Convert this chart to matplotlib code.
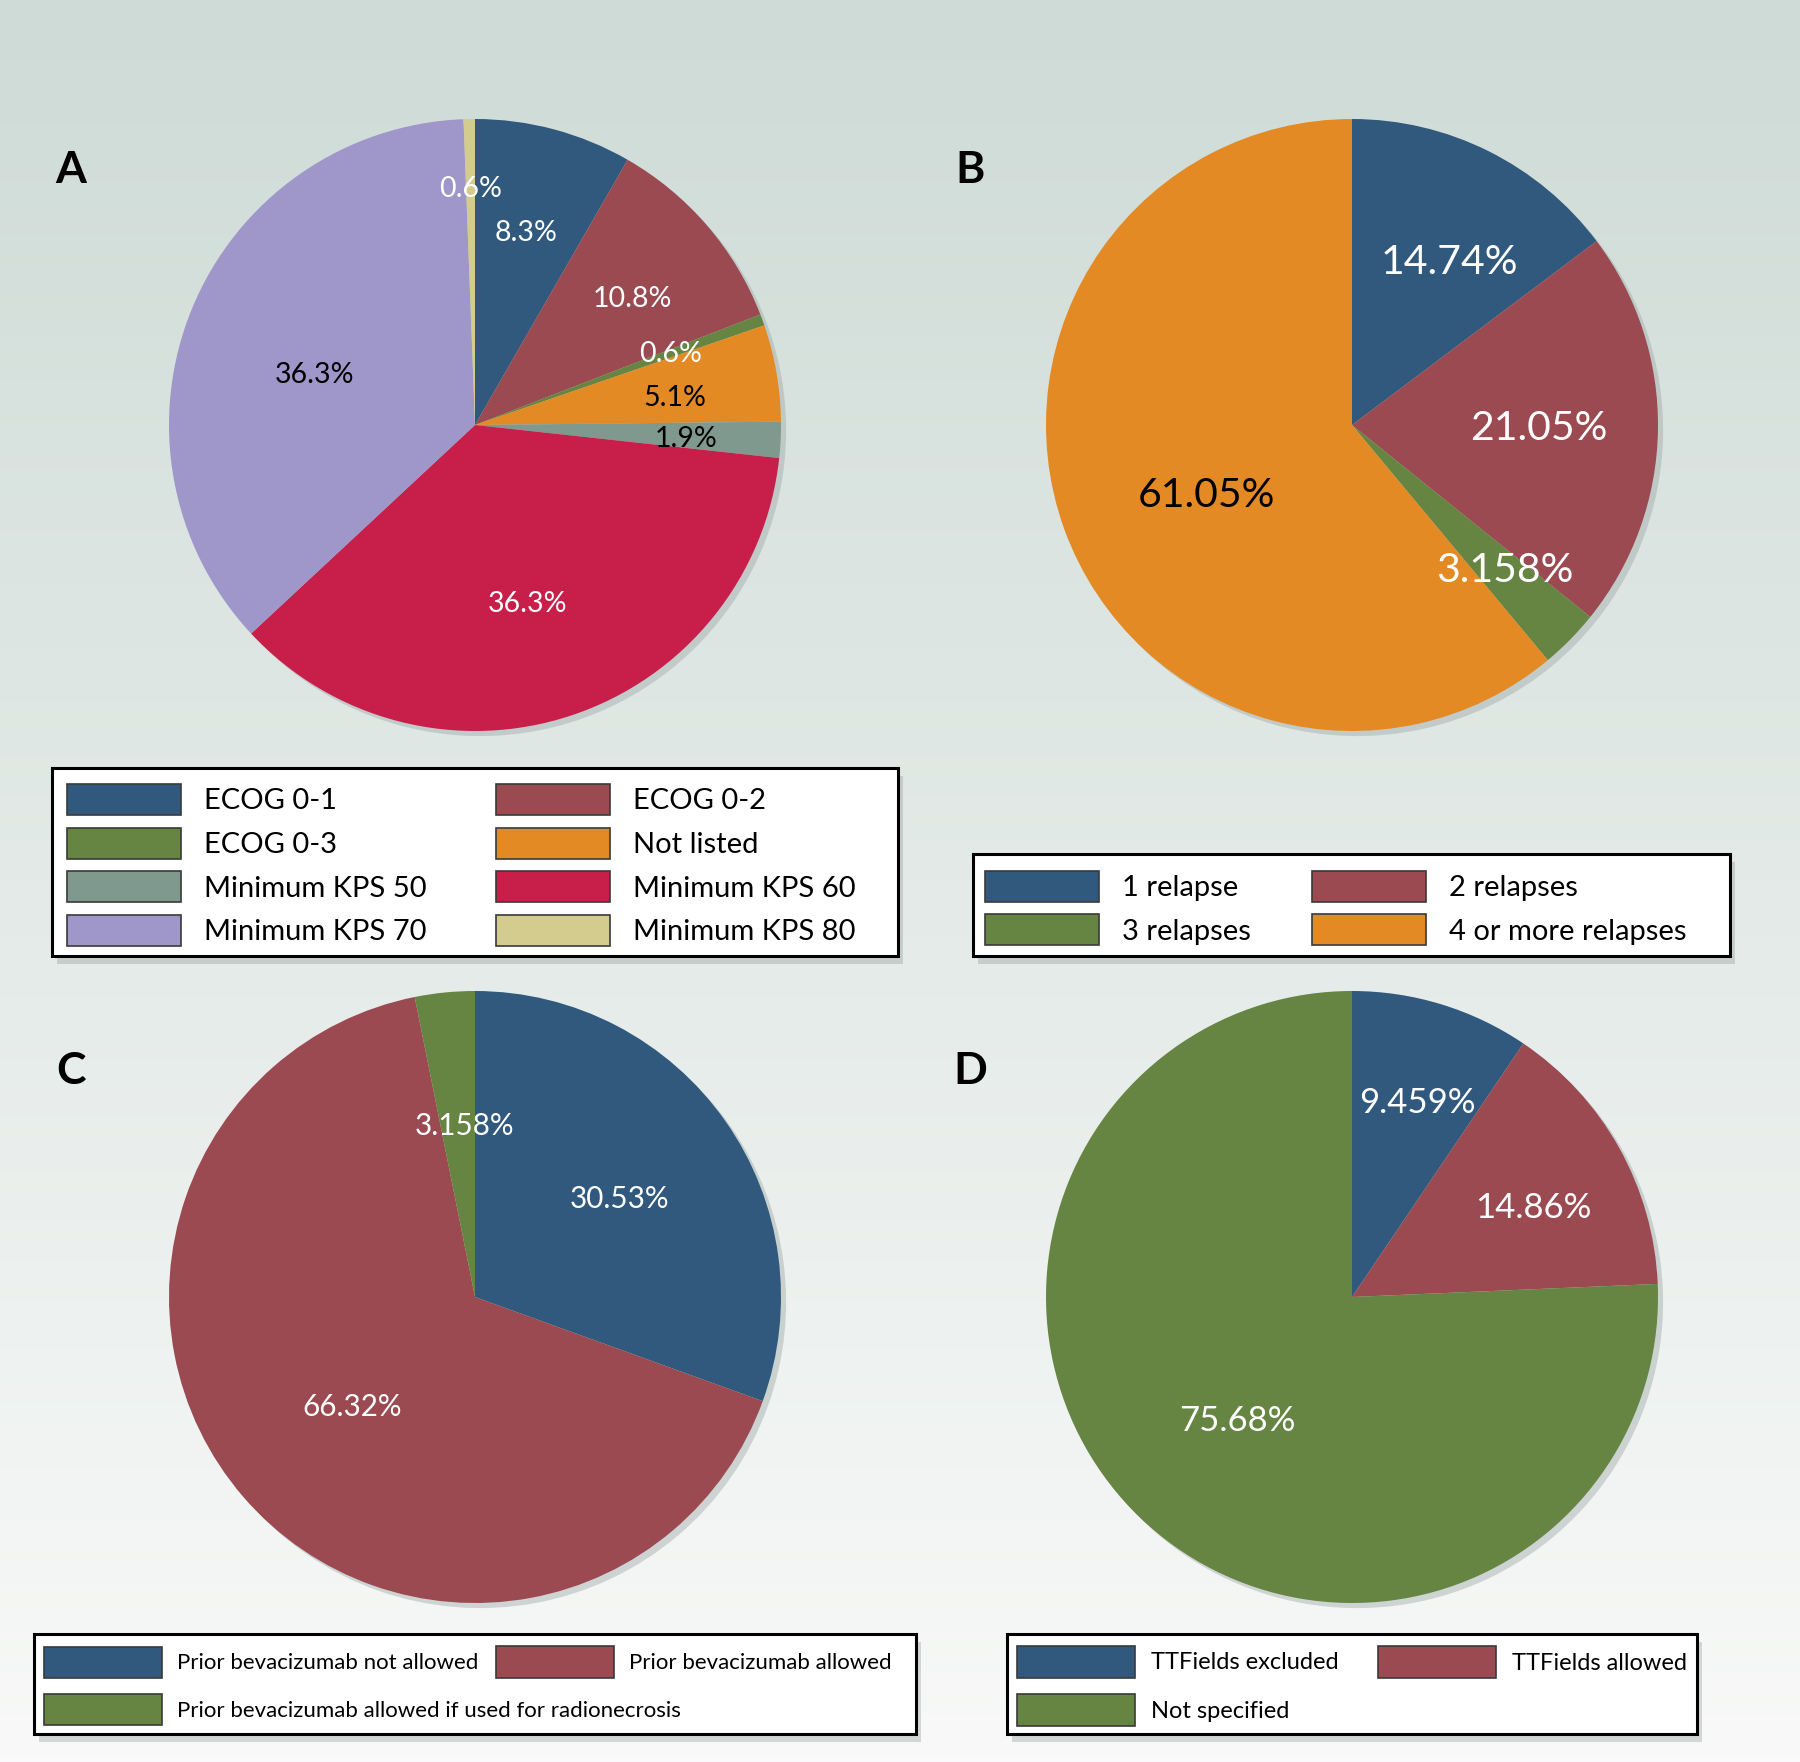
import numpy as np
import matplotlib
matplotlib.use("Agg")
import matplotlib.pyplot as plt
import matplotlib.patches as mpatches

plt.rcParams["font.family"] = ["Lato", "DejaVu Sans"]

# panel A - performance status requirement
a_labels = ["ECOG 0-1", "ECOG 0-2", "ECOG 0-3", "Not listed",
            "Minimum KPS 50", "Minimum KPS 60", "Minimum KPS 70", "Minimum KPS 80"]
a_values = [8.3, 10.8, 0.6, 5.1, 1.9, 36.3, 36.3, 0.6]

# panel B - number of prior relapses
b_labels = ["1 relapse", "2 relapses", "3 relapses", "4 or more relapses"]
b_values = [14.74, 21.05, 3.158, 61.05]

# panel C - prior bevacizumab
c_labels = ["Prior bevacizumab not allowed", "Prior bevacizumab allowed",
            "Prior bevacizumab allowed if used for radionecrosis"]
c_values = [30.53, 66.32, 3.158]

# panel D - TTFields
d_labels = ["TTFields excluded", "TTFields allowed", "Not specified"]
d_values = [9.459, 14.86, 75.68]

BLUE, RED, GREEN, ORANGE = "#30597d", "#9b4a51", "#668442", "#e48a24"
a_colors = [BLUE, RED, GREEN, ORANGE, "#7f998f", "#c81e4a", "#9f96ca", "#d3cc8e"]
a_text = ["white", "white", "white", "black", "black", "white", "black", "white"]
b_colors = [BLUE, RED, GREEN, ORANGE]
b_text = ["white", "white", "white", "black"]
c_colors = [BLUE, RED, GREEN]
d_colors = [BLUE, RED, GREEN]

# where each percentage sits: fraction of radius, and nudge off the mid-angle (deg)
a_dist = [0.65, 0.66, 0.68, 0.66, 0.69, 0.61, 0.55, 0.77]
a_dang = [0, -2, 0, -2, -1, -2, 5, 0]
b_dist = [0.62, 0.61, 0.69, 0.53]
b_dang = [-4.5, 0, 1, 6]
c_dist = [0.57, 0.54, 0.56]
c_dang = [-1, 1, -2]
d_dist = [0.67, 0.66, 0.55]
d_dang = [-1.5, -3, 1]

W, H = 1800, 1762
fig = plt.figure(figsize=(W / 100, H / 100), dpi=100)

# background gradient
bg = fig.add_axes([0, 0, 1, 1], zorder=-10)
top = np.array([206, 219, 214]) / 255
bot = np.array([248, 249, 248]) / 255
t = np.linspace(0, 1, 256)[:, None]
grad = top[None, :] * (1 - t) + bot[None, :] * t
bg.imshow(grad[:, None, :], aspect="auto", extent=[0, 1, 0, 1])
bg.set_xlim(0, 1)
bg.set_ylim(0, 1)
bg.axis("off")


def fx(x):
    return x / W


def fy(y):
    return 1 - y / H


def pie_axes(cx, cy, r=306):
    return fig.add_axes([(cx - r) / W, (H - cy - r) / H, 2 * r / W, 2 * r / H])


def draw_pie(ax, values, colors, text_colors, fmt, size, dists, dangs):
    wedges, _ = ax.pie(
        values, colors=colors, startangle=90, counterclock=False,
        radius=1, wedgeprops=dict(linewidth=0),
        shadow={"ox": 0.012, "oy": -0.012, "facecolor": "#9fabaa", "alpha": 0.45},
    )
    for w, v, tc, d, da in zip(wedges, values, text_colors, dists, dangs):
        ang = np.deg2rad((w.theta1 + w.theta2) / 2 + da)
        ax.text(d * np.cos(ang), d * np.sin(ang), fmt.format(v) + "%",
                ha="center", va="center", color=tc, fontsize=size)
    ax.set_xlim(-1, 1)
    ax.set_ylim(-1, 1)
    ax.set_aspect("equal")
    ax.axis("off")


def legend_frame(x0, y0, x1, y1):
    # soft drop shadow then the white box with black border
    bg.add_patch(mpatches.Rectangle((fx(x0 + 5), fy(y1 + 8)), (x1 - x0) / W, (y1 - y0) / H,
                                    facecolor="#8f9a98", alpha=0.35, edgecolor="none",
                                    transform=fig.transFigure, zorder=1))
    bg.add_patch(mpatches.Rectangle((fx(x0), fy(y1)), (x1 - x0) / W, (y1 - y0) / H,
                                    facecolor="white", edgecolor="black", linewidth=2.2,
                                    transform=fig.transFigure, zorder=2))


def legend_column(labels, colors, x, ymid, size, hl, hh, ls, pad):
    handles = [mpatches.Patch(facecolor=c, edgecolor="#3a3a3a", linewidth=1.2)
               for c in colors]
    fig.legend(handles, labels, loc="center left", bbox_to_anchor=(fx(x), fy(ymid)),
               frameon=False, borderpad=0, borderaxespad=0, fontsize=size,
               handlelength=hl, handleheight=hh, labelspacing=ls, handletextpad=pad)


ax_a = pie_axes(475, 425)
draw_pie(ax_a, a_values, a_colors, a_text, "{:.3g}", 20.5, a_dist, a_dang)
ax_b = pie_axes(1352, 425)
draw_pie(ax_b, b_values, b_colors, b_text, "{:.4g}", 29.5, b_dist, b_dang)
ax_c = pie_axes(475, 1297)
draw_pie(ax_c, c_values, c_colors, ["white"] * 3, "{:.4g}", 21.3, c_dist, c_dang)
ax_d = pie_axes(1352, 1297)
draw_pie(ax_d, d_values, d_colors, ["white"] * 3, "{:.4g}", 25, d_dist, d_dang)

for letter, x, y in [("A", 71, 170), ("B", 970, 170), ("C", 71, 1071), ("D", 970, 1071)]:
    fig.text(fx(x), fy(y), letter, ha="center", va="center",
             fontsize=32, fontweight="bold")

# legend A: two columns of four
legend_frame(52, 768, 898, 956)
legend_column(a_labels[0::2], a_colors[0::2], 67, 865, 21, 3.9, 1.25, 0.44, 0.79)
legend_column(a_labels[1::2], a_colors[1::2], 496, 865, 21, 3.9, 1.25, 0.44, 0.79)

# legend B: two columns of two
legend_frame(973, 854, 1730, 956)
legend_column(b_labels[0::2], b_colors[0::2], 985, 908, 21, 3.9, 1.25, 0.44, 0.79)
legend_column(b_labels[1::2], b_colors[1::2], 1312, 908, 21, 3.9, 1.25, 0.44, 0.79)

# legend C: long third entry runs under the second column
legend_frame(34, 1634, 916, 1734)
legend_column(c_labels[0::2], c_colors[0::2], 44, 1686, 16, 5.3, 1.77, 0.75, 0.67)
legend_column(c_labels[1::2], c_colors[1::2], 496, 1662, 16, 5.3, 1.77, 0.75, 0.67)

# legend D
legend_frame(1007, 1634, 1697, 1734)
legend_column(d_labels[0::2], d_colors[0::2], 1017, 1686, 17, 5.0, 1.7, 0.7, 0.68)
legend_column(d_labels[1::2], d_colors[1::2], 1378, 1662, 17, 5.0, 1.7, 0.7, 0.68)

fig.savefig("out.png", dpi=100)
